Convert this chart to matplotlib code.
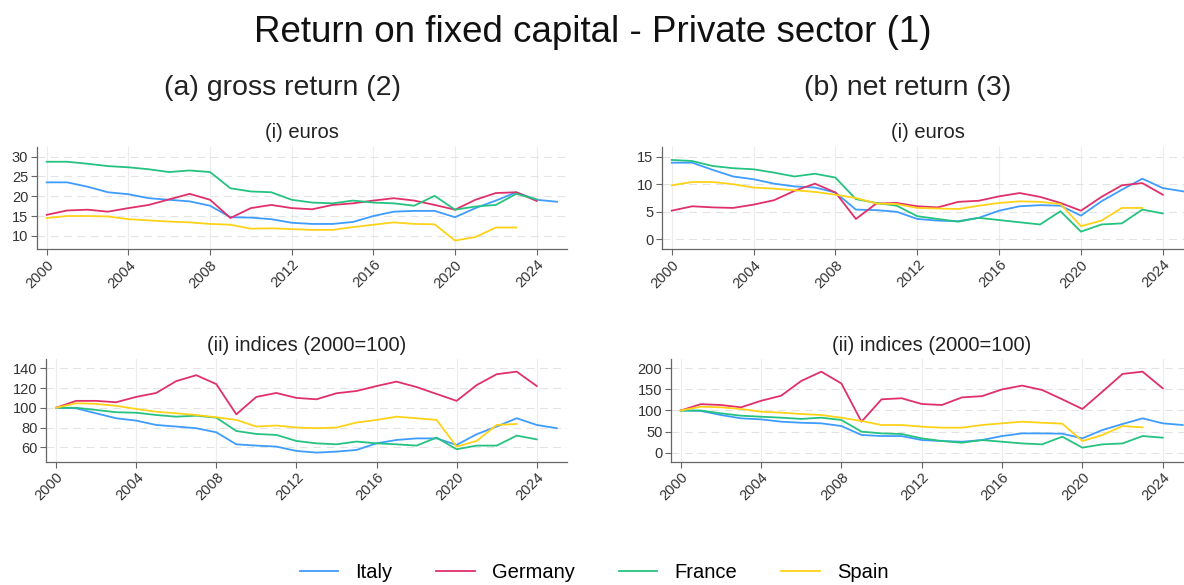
import numpy as np
import matplotlib
matplotlib.use("Agg")
import matplotlib.pyplot as plt

plt.rcParams['font.family'] = ['Liberation Sans', 'DejaVu Sans']

countries = ["Italy", "Germany", "France", "Spain"]
colors = ["#3f9cff", "#e0306a", "#26c281", "#ffd21a"]
year_ticks = [2000, 2004, 2008, 2012, 2016, 2020, 2024]

# gross return, euros
italy_gross = [23.5, 23.5, 22.4, 21.0, 20.5, 19.5, 19.1, 18.7, 17.6, 14.7, 14.6, 14.2, 13.3,
               13.0, 13.0, 13.5, 15.0, 16.1, 16.3, 16.3, 14.7, 17.0, 18.9, 21.0, 19.1, 18.6]
germany_gross = [15.3, 16.4, 16.6, 16.1, 17.0, 17.8, 19.2, 20.6, 19.1, 14.5, 17.0, 17.8, 17.0,
                 16.7, 17.8, 18.2, 18.9, 19.5, 18.9, 17.8, 16.6, 19.1, 20.8, 21.0, 18.8]
france_gross = [28.7, 28.7, 28.2, 27.6, 27.3, 26.8, 26.1, 26.5, 26.1, 22.0, 21.2, 21.0, 19.1,
                18.4, 18.2, 18.9, 18.4, 18.2, 17.6, 20.1, 16.6, 17.4, 17.8, 20.6, 19.2]
spain_gross = [14.5, 15.0, 15.0, 14.9, 14.2, 13.9, 13.6, 13.4, 13.0, 12.8, 11.8, 11.9, 11.7,
               11.5, 11.5, 12.2, 12.8, 13.4, 13.0, 12.9, 8.8, 9.7, 12.1, 12.1]

# net return, euros
italy_net = [13.9, 13.9, 12.6, 11.4, 10.9, 10.1, 9.6, 9.4, 8.5, 5.4, 5.3, 5.0, 3.7,
             3.4, 3.3, 3.9, 5.2, 6.0, 6.2, 6.1, 4.3, 6.9, 9.0, 11.0, 9.3, 8.7]
germany_net = [5.2, 6.0, 5.8, 5.7, 6.3, 7.1, 8.8, 10.1, 8.5, 3.7, 6.5, 6.6, 6.0,
               5.8, 6.8, 7.0, 7.8, 8.4, 7.7, 6.6, 5.2, 7.7, 9.8, 10.2, 8.1]
france_net = [14.4, 14.2, 13.3, 12.9, 12.7, 12.1, 11.4, 11.9, 11.2, 7.3, 6.6, 6.1, 4.2,
              3.7, 3.2, 3.9, 3.5, 3.1, 2.7, 5.1, 1.4, 2.7, 2.9, 5.4, 4.7]
spain_net = [9.8, 10.4, 10.4, 10.0, 9.4, 9.2, 8.9, 8.6, 8.1, 7.5, 6.5, 6.4, 5.7,
             5.6, 5.5, 6.1, 6.6, 6.9, 6.8, 6.4, 2.4, 3.4, 5.7, 5.7]

# gross return, index 2000=100
italy_gross_idx = [100, 99.5, 94.4, 89.4, 87, 82.6, 81, 79.3, 75.2, 63, 61.7, 60.7, 56.3,
                   54.6, 55.6, 57.3, 64, 67.4, 69, 69, 62.4, 73.2, 81, 89.4, 82.6, 79.3]
germany_gross_idx = [100, 107, 107, 105.6, 111, 115, 127, 133, 124, 93.4, 111, 115, 110,
                     108.6, 114.7, 117, 122, 126.5, 121, 114, 107, 123, 134, 136.6, 122]
france_gross_idx = [100, 100, 97.8, 95.5, 95, 92.7, 91, 92, 90, 76.5, 73.5, 72.5, 66.4,
                    64, 63, 65.8, 64, 63, 61.7, 69.8, 58, 61.7, 61.7, 71.8, 68]
spain_gross_idx = [100, 104.6, 104, 102, 98.8, 96, 94.4, 92.7, 90.4, 87.7, 81, 82, 80,
                   79.3, 80, 85, 87.7, 91, 89.4, 87.7, 60.7, 66.4, 82.6, 83.6]

# net return, index 2000=100
italy_net_idx = [100, 99, 89.3, 81.4, 79, 73.5, 71, 69.6, 63.2, 42, 39.5, 39.5, 30,
                 27.7, 26, 30, 39.5, 45.8, 45.8, 45, 34, 53.8, 68, 81.4, 69.6, 65.6]
germany_net_idx = [100, 115, 113, 107.5, 123, 135, 170, 192, 164, 73.5, 126.5, 129, 115.4,
                   113, 131, 134, 150, 159, 148.6, 126.5, 103.6, 144.7, 186.6, 192, 152.6]
france_net_idx = [100, 100, 93.3, 87.7, 85.3, 83, 80, 83, 77.5, 50, 45.8, 44.3, 34,
                  27.7, 23.7, 30, 26, 22, 19.8, 38, 12, 19.8, 22, 39.5, 35.6]
spain_net_idx = [100, 109, 107.5, 103.6, 97.2, 95, 91.7, 89.3, 83, 75, 65.6, 65.6, 61.7,
                 59.3, 59.3, 65.6, 69.6, 73.5, 71, 68.8, 27.7, 42, 63.2, 60]

W, H = 1184, 585
fig = plt.figure(figsize=(W / 100, H / 100), dpi=100)


def px_axes(left, top, right, bottom):
    return fig.add_axes([left / W, 1 - bottom / H, (right - left) / W, (bottom - top) / H])


def draw_panel(ax, series, title, ylim, yticks):
    for vals, c, name in zip(series, colors, countries):
        yrs = np.arange(2000, 2000 + len(vals))
        ax.plot(yrs, vals, color=c, lw=1.3, label=name)
    ax.set_xlim(1999.5, 2025.5)
    ax.set_ylim(*ylim)
    ax.set_xticks(year_ticks)
    ax.set_xticklabels([str(y) for y in year_ticks], rotation=45, ha='right',
                       rotation_mode='anchor')
    ax.set_yticks(yticks)
    ax.tick_params(direction='out', length=4, width=0.8, color='#666666',
                   labelsize=10.5, labelcolor='#333333', pad=2)
    for s in ['top', 'right']:
        ax.spines[s].set_visible(False)
    for s in ['left', 'bottom']:
        ax.spines[s].set_color('#666666')
        ax.spines[s].set_linewidth(0.9)
    ax.yaxis.grid(True, color='#e3e3e3', lw=0.8, ls=(0, (7, 5)))
    ax.xaxis.grid(True, color='#ececec', lw=0.8)
    ax.set_axisbelow(True)
    ax.set_title(title, fontsize=14.5, pad=6, color='#222222')


ax1 = px_axes(36.5, 146.7, 567.3, 249.3)
draw_panel(ax1, [italy_gross, germany_gross, france_gross, spain_gross],
           "(i) euros", (6.6, 32.5), [10, 15, 20, 25, 30])

ax2 = px_axes(661.5, 146.7, 1193.5, 249.3)
draw_panel(ax2, [italy_net, germany_net, france_net, spain_net],
           "(i) euros", (-1.8, 16.8), [0, 5, 10, 15])

ax3 = px_axes(46, 359, 566.8, 461.7)
draw_panel(ax3, [italy_gross_idx, germany_gross_idx, france_gross_idx, spain_gross_idx],
           "(ii) indices (2000=100)", (45.4, 149.4), [60, 80, 100, 120, 140])

ax4 = px_axes(670.7, 359, 1192.8, 461.7)
draw_panel(ax4, [italy_net_idx, germany_net_idx, france_net_idx, spain_net_idx],
           "(ii) indices (2000=100)", (-21.3, 222), [0, 50, 100, 150, 200])

fig.text(593 / W, 1 - 33 / H, "Return on fixed capital - Private sector (1)",
         ha='center', va='center', fontsize=26.5, color='#111111')
fig.text(282 / W, 1 - 88 / H, "(a) gross return (2)", ha='center', va='center',
         fontsize=20.5, color='#222222')
fig.text(908 / W, 1 - 88 / H, "(b) net return (3)", ha='center', va='center',
         fontsize=20.5, color='#222222')

handles, labels = ax1.get_legend_handles_labels()
fig.legend(handles, labels, loc='center', bbox_to_anchor=(594 / W, 1 - 573 / H),
           ncol=4, frameon=False, fontsize=14.5, handlelength=1.9,
           handletextpad=0.85, columnspacing=2.2)

fig.savefig("out.png", dpi=100)
